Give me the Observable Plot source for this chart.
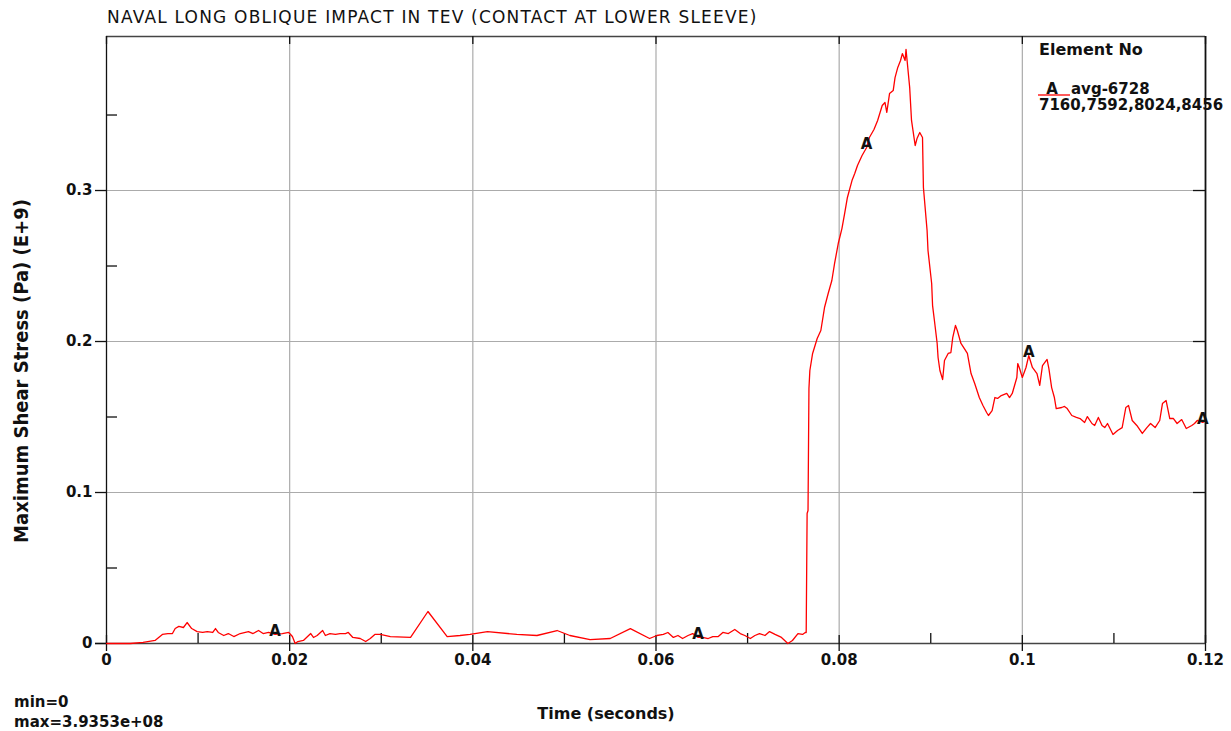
<!DOCTYPE html>
<html>
<head>
<meta charset="utf-8">
<script src="https://cdn.jsdelivr.net/npm/d3@7"></script>
<script src="https://cdn.jsdelivr.net/npm/@observablehq/plot@0.6"></script>
<style>
  body { margin: 0; background: #fff; }
  #chart svg { display: block; }
</style>
</head>
<body>
<div id="chart"></div>
<script>
// Time history of maximum shear stress (element average), seconds vs Pa (E+9)
const time = [
  0, 0.0026, 0.0040, 0.0045, 0.0053, 0.0061, 0.0067, 0.0072, 0.0075, 0.0079,
  0.0084, 0.0088, 0.0093, 0.0099, 0.0105, 0.0110, 0.0116, 0.0119, 0.0122, 0.0128,
  0.0133, 0.0139, 0.0146, 0.0155, 0.0160, 0.0166, 0.0171, 0.0177, 0.0184, 0.0192,
  0.0199, 0.0203, 0.0206, 0.0209, 0.0215, 0.0223, 0.0226, 0.0230, 0.0236, 0.0239,
  0.0244, 0.0250, 0.0255, 0.0261, 0.0264, 0.0269, 0.0277, 0.0283, 0.0288, 0.0293,
  0.0299, 0.0310, 0.0332, 0.0351, 0.0372, 0.0386, 0.0397, 0.0416, 0.0448, 0.0470,
  0.0492, 0.0506, 0.0528, 0.0550, 0.0572, 0.0593, 0.0601, 0.0608, 0.0613, 0.0619,
  0.0624, 0.0629, 0.0635, 0.0640, 0.0646, 0.0651, 0.0657, 0.0662, 0.0668, 0.0673,
  0.0679, 0.0686, 0.0692, 0.0697, 0.0703, 0.0708, 0.0713, 0.0719, 0.0724, 0.0730,
  0.0737, 0.0744, 0.0749, 0.0755, 0.0760, 0.0763, 0.0764, 0.0765, 0.0766, 0.0767,
  0.0768, 0.0771, 0.0776, 0.0780, 0.0784, 0.0788, 0.0792, 0.0795, 0.0799, 0.0803,
  0.0806, 0.0809, 0.0814, 0.0817, 0.0820, 0.0825, 0.0830, 0.0833, 0.0838, 0.0842,
  0.0847, 0.0850, 0.0852, 0.0855, 0.0859, 0.0861, 0.0864, 0.0867, 0.0869, 0.0872,
  0.0873, 0.0875, 0.0877, 0.0879, 0.0883, 0.0885, 0.0888, 0.0891, 0.0892, 0.0896,
  0.0897, 0.0901, 0.0902, 0.0904, 0.0907, 0.0908, 0.0910, 0.0913, 0.0915, 0.0919,
  0.0922, 0.0924, 0.0927, 0.0929, 0.0933, 0.0936, 0.0940, 0.0944, 0.0948, 0.0953,
  0.0957, 0.0961, 0.0963, 0.0967, 0.0970, 0.0973, 0.0977, 0.0983, 0.0986, 0.0989,
  0.0994, 0.0995, 0.0997, 0.1000, 0.1004, 0.1007, 0.1011, 0.1016, 0.1019, 0.1022,
  0.1027, 0.1029, 0.1032, 0.1035, 0.1037, 0.1043, 0.1046, 0.1049, 0.1054, 0.1059,
  0.1063, 0.1068, 0.1071, 0.1076, 0.1079, 0.1083, 0.1087, 0.1090, 0.1093, 0.1099,
  0.1104, 0.1109, 0.1113, 0.1116, 0.1120, 0.1125, 0.1131, 0.1136, 0.1140, 0.1145,
  0.1150, 0.1153, 0.1157, 0.1161, 0.1165, 0.1169, 0.1174, 0.1179, 0.1185, 0.1188,
  0.1191, 0.1197, 0.1199
];
const stress = [
  0, 0, 0.0007, 0.0013, 0.0020, 0.0060, 0.0066, 0.0066, 0.0099, 0.0113,
  0.0106, 0.0139, 0.0099, 0.0079, 0.0073, 0.0079, 0.0073, 0.0099, 0.0073, 0.0053,
  0.0066, 0.0046, 0.0066, 0.0079, 0.0066, 0.0086, 0.0066, 0.0073, 0.0060, 0.0066,
  0.0073, 0.0046, 0.0000, 0.0013, 0.0020, 0.0066, 0.0040, 0.0053, 0.0086, 0.0053,
  0.0066, 0.0060, 0.0066, 0.0066, 0.0073, 0.0040, 0.0033, 0.0013, 0.0033, 0.0060,
  0.0060, 0.0046, 0.0040, 0.0212, 0.0046, 0.0053, 0.0060, 0.0079, 0.0060, 0.0053,
  0.0086, 0.0053, 0.0026, 0.0033, 0.0099, 0.0033, 0.0053, 0.0060, 0.0073, 0.0040,
  0.0053, 0.0033, 0.0053, 0.0066, 0.0040, 0.0040, 0.0033, 0.0046, 0.0046, 0.0073,
  0.0066, 0.0093, 0.0066, 0.0053, 0.0033, 0.0053, 0.0066, 0.0053, 0.0079, 0.0060,
  0.0040, 0.0000, 0.0020, 0.0066, 0.0060, 0.0073, 0.0073, 0.0861, 0.0881, 0.1689,
  0.1808, 0.1921, 0.2020, 0.2073, 0.2225, 0.2318, 0.2404, 0.2517, 0.2649, 0.2748,
  0.2848, 0.2954, 0.3066, 0.3113, 0.3166, 0.3232, 0.3285, 0.3351, 0.3404, 0.3464,
  0.3563, 0.3583, 0.3517, 0.3642, 0.3662, 0.3748, 0.3815, 0.3861, 0.3907, 0.3861,
  0.39353, 0.3808, 0.3682, 0.3464, 0.3298, 0.3344, 0.3384, 0.3351, 0.3020, 0.2735,
  0.2603, 0.2384, 0.2238, 0.2139, 0.1987, 0.1894, 0.1808, 0.1748, 0.1874, 0.1921,
  0.1927, 0.2026, 0.2106, 0.2073, 0.1987, 0.1960, 0.1921, 0.1788, 0.1722, 0.1629,
  0.1576, 0.1530, 0.1510, 0.1543, 0.1629, 0.1623, 0.1642, 0.1656, 0.1629, 0.1656,
  0.1762, 0.1854, 0.1821, 0.1762, 0.1828, 0.1907, 0.1828, 0.1788, 0.1709, 0.1841,
  0.1881, 0.1821, 0.1695, 0.1629, 0.1556, 0.1563, 0.1570, 0.1556, 0.1510, 0.1497,
  0.1490, 0.1464, 0.1503, 0.1457, 0.1444, 0.1497, 0.1444, 0.1430, 0.1457, 0.1384,
  0.1411, 0.1430, 0.1563, 0.1576, 0.1477, 0.1444, 0.1391, 0.1430, 0.1457, 0.1430,
  0.1477, 0.1589, 0.1609, 0.1490, 0.1490, 0.1457, 0.1483, 0.1424, 0.1444, 0.1457,
  0.1477, 0.1464, 0.1470
];

// Curve symbol "A" is stamped at these sample times
const markerTimes = [0.0187, 0.0645, 0.0830, 0.1007, 0.1198];

// Axis ticks and labels
const xTicks = [0, 0.02, 0.04, 0.06, 0.08, 0.1, 0.12];
const xTickLabels = ["0", "0.02", "0.04", "0.06", "0.08", "0.1", "0.12"];
const xMinorTicks = [0.01, 0.03, 0.05, 0.07, 0.09, 0.11];
const yTicks = [0, 0.1, 0.2, 0.3];
const yTickLabels = ["0", "0.1", "0.2", "0.3"];
const yMinorTicks = [0.05, 0.15, 0.25, 0.35];

const titleText = "NAVAL LONG OBLIQUE IMPACT IN TEV (CONTACT AT LOWER SLEEVE)";
const xTitle = "Time (seconds)";
const yTitle = "Maximum Shear Stress (Pa) (E+9)";
const legendHeader = "Element No";
const legendSymbol = "A";
const legendLines = ["avg-6728", "7160,7592,8024,8456"];

const series = time.map((t, i) => ({t, v: stress[i]}));
const markers = markerTimes.map(mt => series[d3.minIndex(series, d => Math.abs(d.t - mt))]);

const xMax = 0.12, yMax = 0.402;
const font = "'DejaVu Sans', sans-serif";
const ink = "#111";

const chart = Plot.plot({
  width: 1231,
  height: 731,
  marginLeft: 106,
  marginRight: 26,
  marginTop: 36,
  marginBottom: 88,
  style: {fontFamily: font, background: "#fff", overflow: "visible"},
  x: {domain: [0, xMax], axis: null},
  y: {domain: [0, yMax], axis: null},
  marks: [
    // grid
    Plot.ruleX(xTicks.slice(1, -1), {stroke: "#ababab", strokeWidth: 1.2}),
    Plot.ruleY(yTicks.slice(1), {stroke: "#ababab", strokeWidth: 1.2}),
    // frame
    Plot.ruleY([yMax], {stroke: "#444", strokeWidth: 1.3}),
    Plot.ruleY([0], {x1: 0, x2: xMax, insetLeft: -11, stroke: "#444", strokeWidth: 1.3}),
    Plot.ruleX([0], {stroke: ink, strokeWidth: 1.3}),
    Plot.ruleX([xMax], {stroke: ink, strokeWidth: 1.8}),
    // bottom ticks
    Plot.ruleX(xTicks, {y1: 0, y2: 0, insetTop: -8, insetBottom: -8, stroke: ink, strokeWidth: 1.3}),
    Plot.ruleX(xMinorTicks, {y1: 0, y2: 0, insetTop: -10, stroke: ink, strokeWidth: 1.3}),
    // top ticks
    Plot.ruleX(xTicks, {y1: yMax, y2: yMax, insetBottom: -8, stroke: ink, strokeWidth: 1.3}),
    // left ticks
    Plot.ruleY(yTicks, {x1: 0, x2: 0, insetLeft: -11, stroke: ink, strokeWidth: 1.3}),
    Plot.ruleY(yMinorTicks, {x1: 0, x2: 0, insetRight: -11, stroke: ink, strokeWidth: 1.3}),
    // right ticks
    Plot.ruleY(yTicks.slice(1), {x1: xMax, x2: xMax, insetLeft: -12, stroke: ink, strokeWidth: 1.3}),
    // tick labels
    Plot.text(xTicks, {x: d => d, frameAnchor: "bottom", dy: 17, lineAnchor: "middle",
      text: (d, i) => xTickLabels[i], fontSize: 15, fontWeight: "bold", fill: ink}),
    Plot.text(yTicks, {y: d => d, frameAnchor: "left", dx: -14, textAnchor: "end", lineAnchor: "middle",
      text: (d, i) => yTickLabels[i], fontSize: 15, fontWeight: "bold", fill: ink}),
    // curve
    Plot.line(series, {x: "t", y: "v", stroke: "#ff0000", strokeWidth: 1.3}),
    // curve symbols
    Plot.text(markers, {x: "t", y: "v", text: () => legendSymbol, dy: -3, lineAnchor: "middle",
      fontSize: 15, fontWeight: "bold", fill: ink})
  ]
});

document.getElementById("chart").appendChild(chart);

// Title, axis titles, range note and legend drawn in the same SVG
const svg = d3.select(chart);
const txt = (x, y, s, opts = {}) => {
  const t = svg.append("text").attr("x", x).attr("y", y).text(s)
    .attr("font-family", opts.family || font)
    .attr("font-size", opts.size || 15)
    .attr("font-weight", opts.weight || "bold")
    .attr("fill", opts.fill || ink)
    .attr("text-anchor", opts.anchor || "start");
  if (opts.spacing) t.attr("letter-spacing", opts.spacing);
  if (opts.transform) t.attr("transform", opts.transform);
  return t;
};

txt(107, 23, titleText, {size: 17, weight: "normal", spacing: 1.2});
txt(606, 719, xTitle, {size: 16, anchor: "middle"});
txt(0, 0, yTitle, {size: 20, anchor: "middle", family: "'DejaVu Sans Condensed', 'DejaVu Sans', sans-serif",
  transform: "translate(28,371) rotate(-90)"});

const maxVal = d3.max(stress) * 1e9;
const [mant, ex] = maxVal.toExponential(4).split("e");
const expStr = (ex[0] === "-" ? "-" : "+") + String(Math.abs(+ex)).padStart(2, "0");
txt(14, 707, "min=" + d3.min(stress), {size: 15});
txt(14, 727, "max=" + mant + "e" + expStr, {size: 15});

// legend
txt(1039, 55, legendHeader, {size: 16});
svg.append("line").attr("x1", 1038).attr("x2", 1070).attr("y1", 95).attr("y2", 95)
  .attr("stroke", "#ff0000").attr("stroke-width", 1.3);
txt(1052, 94, legendSymbol, {size: 15, anchor: "middle"});
txt(1071, 94, legendLines[0], {size: 15});
txt(1039, 110, legendLines[1], {size: 15});
</script>
</body>
</html>
